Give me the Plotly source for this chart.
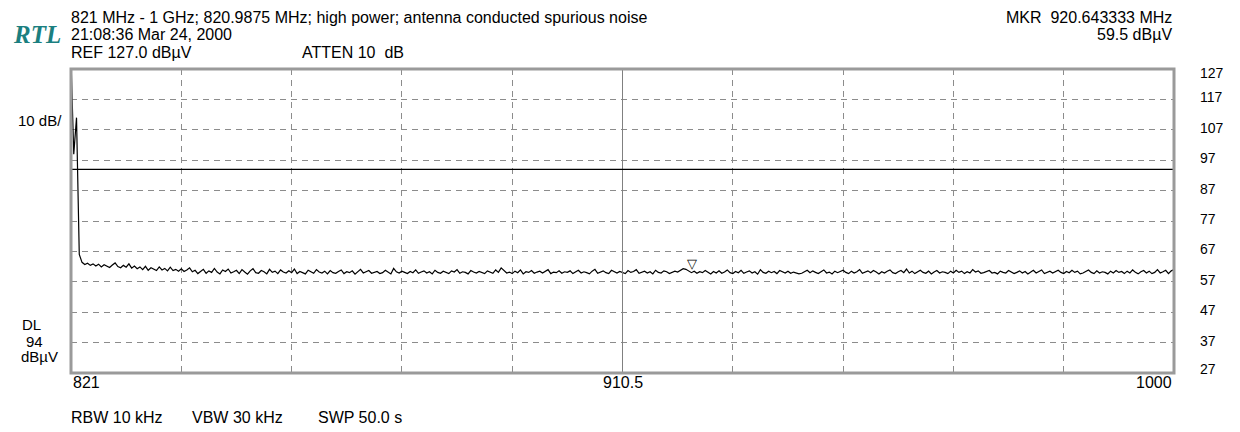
import plotly.graph_objects as go

# sweep settings
freq_start = 821.0
freq_stop = 1000.0
ref_level = 127.0
db_per_div = 10
display_line = 94.0
mkr_freq = 920.643333
mkr_level = 59.5

y_tick_labels = [127, 117, 107, 97, 87, 77, 67, 57, 47, 37, 27]
x_tick_labels = ["821", "910.5", "1000"]

# trace levels (dBuV), 401 sweep points
levels = [
    130.0, 99.0, 111.0, 66.0, 63.4, 62.7, 63.1, 62.4, 62.9, 62.2, 62.8, 61.9, 62.6, 62.1, 61.7, 62.5, 63.2, 62.0, 61.6, 62.4,
    61.8, 62.9, 61.5, 62.2, 61.3, 61.9, 61.0, 62.1, 60.8, 61.6, 61.2, 60.7, 61.9, 60.9, 61.4, 60.6, 61.8, 60.7, 61.1, 60.5,
    61.3, 60.4, 60.9, 61.6, 60.3, 60.8, 59.7, 60.5, 61.1, 59.8, 60.6, 60.1, 61.4, 60.2, 59.6, 60.9, 60.4, 61.2, 59.9, 60.3,
    60.8, 59.7, 61.0, 60.2, 59.5, 60.6, 61.3, 60.0, 59.8, 60.7, 60.3, 59.6, 61.1, 60.1, 60.5, 59.7, 60.9, 60.2, 59.9, 60.6,
    60.0, 61.2, 59.7, 60.4, 60.1, 59.6, 60.8, 60.3, 59.8, 61.0, 60.2, 59.9, 60.5, 59.6, 60.7, 60.0, 59.8, 60.4, 60.9, 59.7,
    60.3, 60.0, 60.6, 59.5, 60.2, 61.1, 59.9, 60.3, 60.7, 59.8, 60.1, 60.4, 59.7, 60.0, 60.8, 60.2, 59.6, 61.4, 60.3, 59.9,
    60.5, 60.1, 59.7, 60.4, 60.0, 60.9, 59.8, 60.2, 60.6, 59.9, 60.3, 59.6, 60.8, 60.1, 59.8, 60.5, 60.0, 59.7, 60.6, 60.2,
    61.0, 59.8, 60.3, 60.1, 59.6, 60.7, 60.2, 59.9, 60.4, 60.0, 59.7, 60.6, 60.3, 59.8, 60.9, 60.1, 61.6, 60.7, 59.9, 60.2,
    59.7, 60.5, 60.0, 60.9, 59.6, 60.3, 60.1, 60.7, 59.8, 60.2, 60.5, 59.9, 60.4, 61.0, 59.7, 60.2, 60.0, 60.6, 59.8, 60.3,
    60.1, 60.6, 59.7, 60.2, 60.8, 59.9, 60.3, 60.0, 59.6, 60.5, 61.1, 59.8, 60.2, 60.6, 60.0, 59.7, 60.8, 60.3, 59.9, 60.4,
    60.0, 59.7, 60.7, 60.1, 60.4, 61.0, 59.8, 60.2, 60.5, 59.9, 60.3, 59.6, 60.8, 60.1, 59.9, 60.6, 60.3, 59.7, 60.1, 60.5,
    60.2, 60.9, 61.3, 61.1, 60.6, 60.0, 60.5, 59.8, 60.3, 60.0, 60.7, 60.1, 59.6, 60.4, 59.9, 60.6, 59.8, 60.2, 60.9, 60.0,
    59.7, 60.4, 60.0, 60.8, 59.8, 60.2, 60.6, 59.9, 60.3, 59.5, 61.0, 60.1, 59.8, 60.5, 60.0, 60.4, 59.7, 60.7, 60.2, 59.9,
    60.5, 59.8, 60.2, 60.0, 59.6, 59.8, 60.4, 60.8, 60.0, 60.6, 60.1, 59.7, 60.3, 60.9, 59.9, 60.2, 59.6, 60.5, 60.0, 60.3,
    60.8, 60.1, 59.7, 60.5, 59.9, 60.3, 61.0, 59.8, 60.1, 60.6, 60.0, 60.7, 60.2, 59.6, 60.3, 59.9, 60.5, 60.9, 60.0, 59.7,
    60.3, 60.7, 60.0, 61.2, 59.9, 60.5, 59.7, 60.2, 60.8, 60.1, 59.8, 60.5, 59.6, 60.2, 60.7, 59.9, 60.3, 60.1, 59.7, 60.5,
    59.9, 60.8, 60.1, 60.5, 59.7, 60.3, 59.9, 61.0, 60.2, 60.6, 59.8, 60.0, 60.3, 60.7, 59.9, 60.1, 59.6, 60.5, 60.1, 59.9,
    60.7, 60.3, 59.7, 60.1, 60.6, 59.9, 60.4, 59.6, 60.2, 60.8, 59.9, 60.3, 60.9, 59.7, 60.1, 60.5, 59.9, 60.3, 60.8, 60.1,
    59.7, 60.4, 60.0, 60.8, 60.1, 60.5, 59.6, 59.9, 60.3, 60.9, 60.1, 59.7, 60.6, 59.9, 60.3, 60.1, 59.6, 60.5, 59.9, 60.7,
    60.1, 60.4, 59.7, 60.5, 59.9, 60.9, 60.1, 59.6, 60.3, 60.7, 59.9, 60.5, 59.7, 60.1, 61.0, 59.9, 60.3, 60.8, 59.7, 60.6,
    61.0,
]

FONT = "Liberation Sans, Arial, sans-serif"
GRID = "#8c8c8c"

fig = go.Figure()
fig.add_trace(go.Scatter(
    y=levels, x0=freq_start, dx=(freq_stop - freq_start) / (len(levels) - 1),
    mode="lines", line=dict(color="black", width=1.2), hoverinfo="skip",
))

# the page body adds an 8px offset, margins compensate for it
fig.update_layout(
    width=1240, height=432,
    margin=dict(l=63, r=74, t=61, b=67),
    paper_bgcolor="white", plot_bgcolor="white",
    showlegend=False,
    font=dict(family=FONT, size=16, color="black"),
)
fig.update_xaxes(
    range=[freq_start, freq_stop], tick0=freq_start, dtick=(freq_stop - freq_start) / 10,
    showgrid=True, gridcolor=GRID, gridwidth=1, griddash="6px,5px",
    showticklabels=False, zeroline=False, showline=False, ticks="",
)
fig.update_yaxes(
    range=[ref_level - 10 * db_per_div, ref_level], tick0=ref_level, dtick=db_per_div,
    showgrid=True, gridcolor=GRID, gridwidth=1, griddash="6px,5px",
    showticklabels=False, zeroline=False, showline=False, ticks="",
)

# centre line and display line
fig.add_shape(type="line", xref="x", yref="paper", x0=(freq_start + freq_stop) / 2,
              x1=(freq_start + freq_stop) / 2, y0=0, y1=1, line=dict(color="#808080", width=1))
fig.add_shape(type="line", xref="paper", yref="y", x0=0, x1=1, y0=display_line, y1=display_line,
              line=dict(color="black", width=1.3))
# frame
fig.add_shape(type="rect", xref="paper", yref="paper", x0=0, x1=1, y0=0, y1=1,
              line=dict(color="#9a9a9a", width=3))

ann = []
def txt(x, y, s, xa="left", ya="middle", xref="paper", yref="paper", **kw):
    ann.append(dict(x=x, y=y, text=s, xref=xref, yref=yref, xanchor=xa, yanchor=ya,
                    showarrow=False, **kw))

txt(-0.002, 1.171, "821 MHz - 1 GHz; 820.9875 MHz; high power; antenna conducted spurious noise")
txt(-0.002, 1.112, "21:08:36 Mar 24, 2000")
txt(-0.002, 1.053, "REF 127.0 dBµV")
txt(0.208, 1.053, "ATTEN 10  dB")
txt(-0.054, 1.115, "<b><i>RTL</i></b>", font=dict(family="Liberation Serif, Times New Roman, serif",
                                                 size=25, color="#1b7f80"))
txt(1.0, 1.171, "MKR  920.643333 MHz", xa="right")
txt(1.0, 1.112, "59.5 dBµV", xa="right")
txt(-0.050, 0.832, "10 dB/", font=dict(size=15))
txt(-0.046, 0.158, "DL", font=dict(size=15))
txt(-0.043, 0.105, "94", font=dict(size=15))
txt(-0.047, 0.053, "dBµV", font=dict(size=15))
txt(-0.002, -0.148, "RBW 10 kHz")
txt(0.108, -0.148, "VBW 30 kHz")
txt(0.222, -0.148, "SWP 50.0 s")

# y tick labels on the right
for v in y_tick_labels:
    shift = -4 if v == 127 else (4 if v == 27 else 2)
    txt(1.022, v, str(v), yref="y", yshift=shift, font=dict(size=14))

# x tick labels
txt(freq_start, -0.03, x_tick_labels[0], xref="x", xa="left")
txt((freq_start + freq_stop) / 2, -0.03, x_tick_labels[1], xref="x", xa="center")
txt(freq_stop, -0.03, x_tick_labels[2], xref="x", xa="right")

# marker symbol
txt(mkr_freq, mkr_level, "▽", xref="x", yref="y", ya="bottom", yshift=1,
    font=dict(family="DejaVu Sans", size=13, color="black"))

fig.update_layout(annotations=ann)
fig.write_html("out.html")
